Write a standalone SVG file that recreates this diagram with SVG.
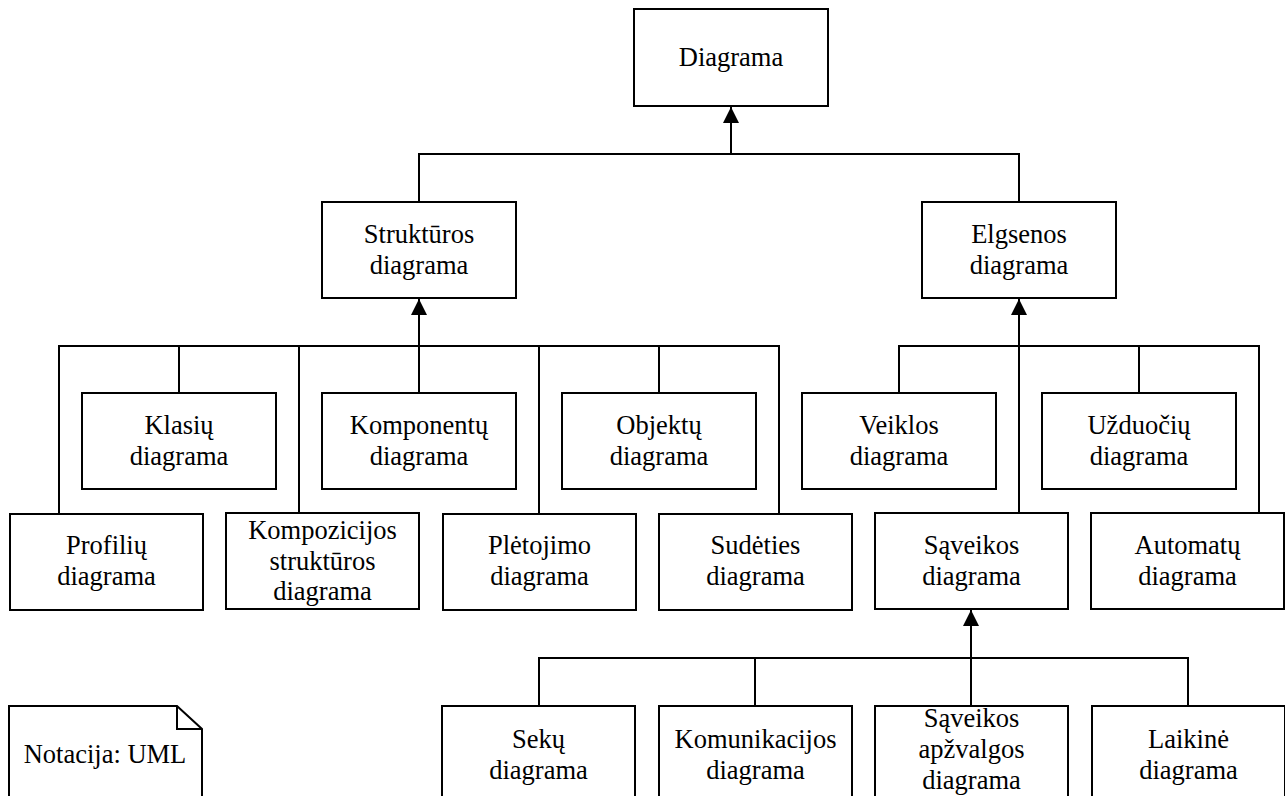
<svg xmlns="http://www.w3.org/2000/svg" width="1285" height="796" viewBox="0 0 1285 796">
  <style>
    .box { fill: #fff; stroke: #000; stroke-width: 2; }
    .ln { fill: none; stroke: #000; stroke-width: 2; }
    .t { font-size: 26.5px; fill: #000; text-anchor: middle; }
  </style>
  <defs>
    <marker id="tri" viewBox="0 0 16 16" refX="16" refY="8" markerWidth="16" markerHeight="16" markerUnits="userSpaceOnUse" orient="auto">
      <path d="M0,0 L16,8 L0,16 Z" fill="#000"/>
    </marker>
  </defs>
  <rect width="1285" height="796" fill="#fff"/>

  <!-- generalisation connectors -->
  <g id="connectors">
    <!-- Diagrama -->
    <path class="ln" d="M731,154 V107" marker-end="url(#tri)"/>
    <path class="ln" d="M419,202 V154 H1019 V202"/>
    <!-- Struktūros diagrama -->
    <path class="ln" d="M419,346 V299" marker-end="url(#tri)"/>
    <path class="ln" d="M59,513 V346 H779 V513"/>
    <path class="ln" d="M179,346 V393"/>
    <path class="ln" d="M299,346 V513"/>
    <path class="ln" d="M419,346 V393"/>
    <path class="ln" d="M539,346 V513"/>
    <path class="ln" d="M659,346 V393"/>
    <!-- Elgsenos diagrama -->
    <path class="ln" d="M1019,513 V299" marker-end="url(#tri)"/>
    <path class="ln" d="M899,393 V346 H1259 V513"/>
    <path class="ln" d="M1139,346 V393"/>
    <!-- Sąveikos diagrama -->
    <path class="ln" d="M971,706 V610" marker-end="url(#tri)"/>
    <path class="ln" d="M539,706 V658 H1188 V706"/>
    <path class="ln" d="M755,658 V706"/>
  </g>

  <g font-family="'Liberation Serif', Tinos, 'Times New Roman', 'DejaVu Serif', serif">
  <g id="n-diagrama">
    <rect class="box" x="634" y="9" width="194" height="97"/>
    <text class="t" x="731" y="66">Diagrama</text>
  </g>
  <g id="n-strukturos">
    <rect class="box" x="322" y="202" width="194" height="96"/>
    <text class="t" x="419" y="242.5">Struktūros</text>
    <text class="t" x="419" y="273.5">diagrama</text>
  </g>
  <g id="n-elgsenos">
    <rect class="box" x="922" y="202" width="194" height="96"/>
    <text class="t" x="1019" y="242.5">Elgsenos</text>
    <text class="t" x="1019" y="273.5">diagrama</text>
  </g>

  <g id="n-klasiu">
    <rect class="box" x="82" y="393" width="194" height="96"/>
    <text class="t" x="179" y="434">Klasių</text>
    <text class="t" x="179" y="465">diagrama</text>
  </g>
  <g id="n-komponentu">
    <rect class="box" x="322" y="393" width="194" height="96"/>
    <text class="t" x="419" y="434">Komponentų</text>
    <text class="t" x="419" y="465">diagrama</text>
  </g>
  <g id="n-objektu">
    <rect class="box" x="562" y="393" width="194" height="96"/>
    <text class="t" x="659" y="434">Objektų</text>
    <text class="t" x="659" y="465">diagrama</text>
  </g>
  <g id="n-veiklos">
    <rect class="box" x="802" y="393" width="194" height="96"/>
    <text class="t" x="899" y="434">Veiklos</text>
    <text class="t" x="899" y="465">diagrama</text>
  </g>
  <g id="n-uzduociu">
    <rect class="box" x="1042" y="393" width="194" height="96"/>
    <text class="t" x="1139" y="434">Užduočių</text>
    <text class="t" x="1139" y="465">diagrama</text>
  </g>

  <g id="n-profiliu">
    <rect class="box" x="10" y="514" width="193" height="96"/>
    <text class="t" x="106.5" y="554">Profilių</text>
    <text class="t" x="106.5" y="585">diagrama</text>
  </g>
  <g id="n-kompozicijos">
    <rect class="box" x="226" y="513" width="193" height="96"/>
    <text class="t" x="322.5" y="539">Kompozicijos</text>
    <text class="t" x="322.5" y="569.5">struktūros</text>
    <text class="t" x="322.5" y="600">diagrama</text>
  </g>
  <g id="n-pletojimo">
    <rect class="box" x="443" y="514" width="193" height="96"/>
    <text class="t" x="539.5" y="554">Plėtojimo</text>
    <text class="t" x="539.5" y="585">diagrama</text>
  </g>
  <g id="n-sudeties">
    <rect class="box" x="659" y="514" width="193" height="96"/>
    <text class="t" x="755.5" y="554">Sudėties</text>
    <text class="t" x="755.5" y="585">diagrama</text>
  </g>
  <g id="n-saveikos">
    <rect class="box" x="875" y="513" width="193" height="96"/>
    <text class="t" x="971.5" y="554">Sąveikos</text>
    <text class="t" x="971.5" y="585">diagrama</text>
  </g>
  <g id="n-automatu">
    <rect class="box" x="1091" y="513" width="193" height="96"/>
    <text class="t" x="1187.5" y="554">Automatų</text>
    <text class="t" x="1187.5" y="585">diagrama</text>
  </g>

  <g id="n-seku">
    <rect class="box" x="442" y="706" width="193" height="100"/>
    <text class="t" x="538.5" y="748">Sekų</text>
    <text class="t" x="538.5" y="779">diagrama</text>
  </g>
  <g id="n-komunikacijos">
    <rect class="box" x="659" y="706" width="193" height="100"/>
    <text class="t" x="755.5" y="748">Komunikacijos</text>
    <text class="t" x="755.5" y="779">diagrama</text>
  </g>
  <g id="n-saveikos-apzvalgos">
    <rect class="box" x="875" y="706" width="193" height="100"/>
    <text class="t" x="971.5" y="727">Sąveikos</text>
    <text class="t" x="971.5" y="758">apžvalgos</text>
    <text class="t" x="971.5" y="789">diagrama</text>
  </g>
  <g id="n-laikine">
    <rect class="box" x="1092" y="706" width="193" height="100"/>
    <text class="t" x="1188.5" y="748">Laikinė</text>
    <text class="t" x="1188.5" y="779">diagrama</text>
  </g>

  <g id="n-notacija">
    <path class="box" d="M9,806 V706 H177 L202,729 V806"/>
    <path class="ln" d="M177,706 V729 H202"/>
    <text class="t" x="105" y="763">Notacija: UML</text>
  </g>
  </g>
</svg>
